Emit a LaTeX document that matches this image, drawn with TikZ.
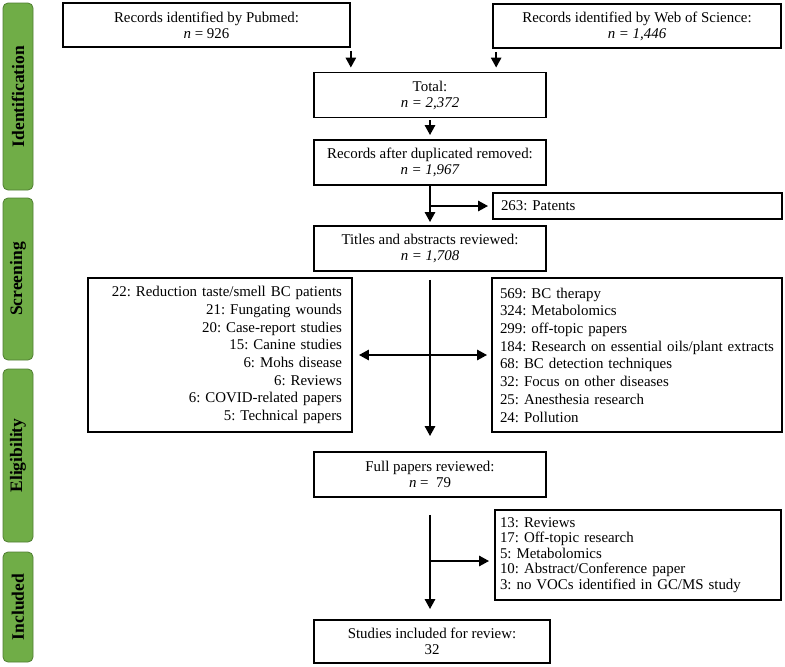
\documentclass[tikz,border=0pt]{standalone}
\usepackage{fontspec}
\setmainfont{Liberation Serif}
\usetikzlibrary{arrows.meta,positioning}
\definecolor{stagegreen}{HTML}{70AD47}
\definecolor{stageline}{HTML}{507E32}
\frenchspacing

\begin{document}
\begin{tikzpicture}[x=1pt, y=-1pt, line width=2.6pt, >={Triangle[length=10pt,width=10pt]},
	box/.style = {draw, line width=1.7pt, minimum width=232pt, minimum height=45pt, align=center, inner sep=0pt, font=\fontsize{14.9}{16}\selectfont},
	list/.style = {draw, line width=1.7pt, inner xsep=8pt, inner ysep=0pt, font=\fontsize{14.9}{17.7}\selectfont},
	stage/.style = {draw=stageline, fill=stagegreen, line width=0.8pt, rounded corners=5pt, rotate=90, minimum height=30pt, inner sep=0pt, font=\fontsize{17.5}{17.5}\selectfont\bfseries}]
		\useasboundingbox (0,0) rectangle (785,667);
		
		%Stage bars on the left
		\node[stage, minimum width=187pt] (ident) at (18,96.5) {Identification};
		\node[stage, minimum width=162pt] (screen) at (18,279) {Screening};
		\node[stage, minimum width=173pt] (elig) at (18,455.5) {Eligibility};
		\node[stage, minimum width=110pt] (incl) at (18,607) {Included};
		
		%Sources
		\node[box, minimum width=287pt, minimum height=44pt] (pubmed) at (206.5,25) {Records identified by Pubmed:\\\textit{n} = 926};
		\node[box, minimum width=288pt, minimum height=44pt] (wos) at (637,26) {Records identified by Web of Science:\\\textit{n = 1,446}};
		
		%Main column
		\node[box] (total) at (430,95) {Total:\\\textit{n = 2,372}};
		\node[box] (records) [node distance={67.5pt}, below of=total] {Records after duplicated removed:\\\textit{n = 1,967}};
		\node[box] (titles) [node distance={86pt}, below of=records] {Titles and abstracts reviewed:\\\textit{n = 1,708}};
		\node[box] (full) [node distance={226pt}, below of=titles] {Full papers reviewed:\\\textit{n} =\ \ 79};
		\node[box, minimum width=236pt, minimum height=43pt] (studies) at (432,641.5) {Studies included for review:\\32};
		
		%Excluded records
		\node[list, text width=273pt, minimum height=26pt, align=left] (patents) at (637.5,206) {263: Patents};
		\node[list, inner xsep=10pt, text width=244pt, minimum height=154pt, align=right] (leftout) at (220,355) {22: Reduction taste/smell BC patients\\21: Fungating wounds\\20: Case-report studies\\15: Canine studies\\6: Mohs disease\\6: Reviews\\6: COVID-related papers\\5: Technical papers};
		\node[list, text width=274pt, minimum height=154pt, align=left] (rightout) at (637,355) {569: BC therapy\\324: Metabolomics\\299: off-topic papers\\184: Research on essential oils/plant extracts\\68: BC detection techniques\\32: Focus on other diseases\\25: Anesthesia research\\24: Pollution};
		\node[list, inner xsep=5pt, text width=276pt, minimum height=90pt, align=left, font=\fontsize{14.9}{15.5}\selectfont] (fullout) at (638,555) {13: Reviews\\17: Off-topic research\\5: Metabolomics\\10: Abstract/Conference paper\\3: no VOCs identified in GC/MS study};
		
		%Arrows into the total
		\coordinate (wosout) at ([xshift=4pt]wos.south west);
		\draw[->, shorten <=3pt, shorten >=4pt] (pubmed.south east) -- (pubmed.south east |- total.north); %Pubmed -> total
		\draw[->, shorten <=3pt, shorten >=4pt] (wosout) -- (wosout |- total.north); %WoS -> total
		
		%Main flow
		\path [->, shorten <=2pt, shorten >=4pt] (total) edge (records); %Total -> records
		\path [->, shorten >=3pt] (records) edge (titles); %Records -> titles
		\draw[->, shorten >=4pt] (records.south |- patents.west) -- (patents.west); %Patents
		\path [->, shorten <=8pt, shorten >=15pt] (titles) edge (full); %Titles -> full papers
		\draw[<->, shorten <=6pt, shorten >=4pt] (leftout) -- (rightout); %Excluded at screening
		\draw[->, shorten <=17pt, shorten >=10pt] (full.south) -- (full.south |- studies.north); %Full papers -> studies
		\coordinate (fork) at ([yshift=-6pt]full.south |- fullout.west);
		\draw[->, shorten >=5pt] (fork) -- (fork -| fullout.west); %Excluded at eligibility
	\end{tikzpicture}
\end{document}
